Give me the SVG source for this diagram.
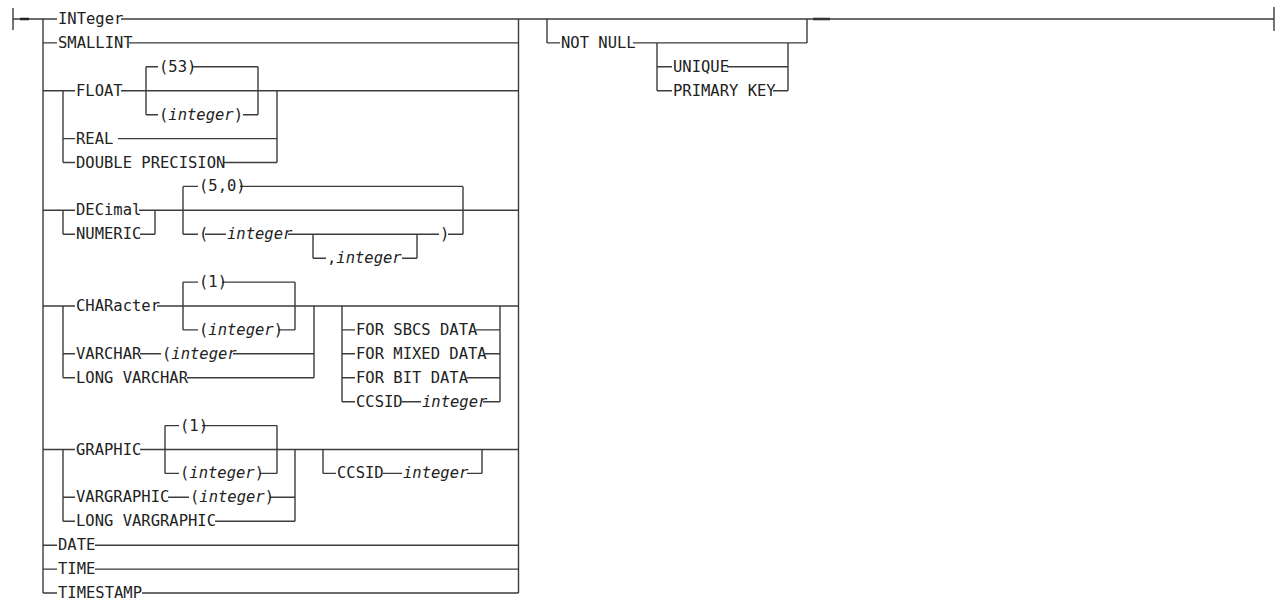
<svg xmlns="http://www.w3.org/2000/svg" width="1280" height="598" viewBox="0 0 1280 598">
<style>
  .bg{fill:#fff}
  .c{fill:none;stroke:#3c3c3c;stroke-width:1.4}
  .tk{fill:none;stroke:#222;stroke-width:2.6}
  text{font-family:"DejaVu Sans Mono","Liberation Mono",monospace;font-size:15.5px;fill:#222}
  .i{font-style:italic}
</style>
<rect class="bg" x="0" y="0" width="1280" height="598"/>
<g id="connectors">
  <path class="c" d="M13 8V30M13 19H43M43 19V593M518.5 19V593"/>
  <path class="tk" d="M20 19H29M813 19H830"/>
  <path class="c" d="M43 19H57M121 19H1274M1274 7V31"/>
  <path class="c" d="M43 42.9H57M129 42.9H518.5"/>
  <!-- FLOAT group -->
  <path class="c" d="M43 90.8H75M121 90.8H518.5M63 90.8V162.5M63 138.6H75M118 138.6H277M63 162.5H75M224 162.5H277M277 90.8V162.5"/>
  <path class="c" d="M146 66.8V114.7M146 66.8H158M192 66.8H258M258 66.8V114.7M146 114.7H158M243 114.7H258"/>
  <!-- DEC group -->
  <path class="c" d="M43 210.3H75M139 210.3H518.5M63 210.3V234.3M63 234.3H75M140 234.3H155M155 210.3V234.3"/>
  <path class="c" d="M183 186.4V234.3M183 186.4H198M240 186.4H463M463 186.4V234.3M183 234.3H198M205 234.3H226M288 234.3H439M448 234.3H463"/>
  <path class="c" d="M313 234.3V258.2M313 258.2H326M402 258.2H417M417 234.3V258.2"/>
  <!-- CHAR group -->
  <path class="c" d="M43 306H75M157 306H518.5M63 306V377.8"/>
  <path class="c" d="M183 282.1V329.9M183 282.1H198M222 282.1H295M295 282.1V329.9M183 329.9H198M278 329.9H295"/>
  <path class="c" d="M63 353.8H75M140 353.8H161M233 353.8H314M63 377.8H75M187 377.8H314M314 306V377.8"/>
  <path class="c" d="M342 306V401.7M500 306V401.7M342 329.9H355M476 329.9H500M342 353.8H355M485 353.8H500M342 377.8H355M467 377.8H500M342 401.7H355M402 401.7H421M483 401.7H500"/>
  <!-- GRAPHIC group -->
  <path class="c" d="M43 449.5H75M140 449.5H518.5M63 449.5V521.3"/>
  <path class="c" d="M165 425.6V473.4M165 425.6H179M202 425.6H277M277 425.6V473.4M165 473.4H179M260 473.4H277"/>
  <path class="c" d="M63 497.3H75M168 497.3H189M270 497.3H295M63 521.3H75M215 521.3H295M295 449.5V521.3"/>
  <path class="c" d="M323 449.5V473.4M482 449.5V473.4M323 473.4H336M383 473.4H402M467 473.4H482"/>
  <!-- DATE/TIME/TIMESTAMP -->
  <path class="c" d="M43 545.2H57M95 545.2H518.5M43 569.1H57M95 569.1H518.5M43 593H57M142 593H518.5"/>
  <!-- NOT NULL -->
  <path class="c" d="M547 19V42.9M807 19V42.9M547 42.9H560M633 42.9H807M657 42.9V90.8M788 42.9V90.8M657 66.8H672M727 66.8H788M657 90.8H672M773 90.8H788"/>
</g>
<g id="n-integer"><text x="58" y="24">INTeger</text></g>
<g id="n-smallint"><text x="58" y="47.9">SMALLINT</text></g>
<g id="n-53"><text x="159" y="71.8">(53)</text></g>
<g id="n-float"><text x="76" y="95.8">FLOAT</text></g>
<g id="n-float-int"><text x="159" y="119.7">(<tspan class="i">integer</tspan>)</text></g>
<g id="n-real"><text x="76" y="143.6">REAL</text></g>
<g id="n-double"><text x="76" y="167.5">DOUBLE PRECISION</text></g>
<g id="n-50"><text x="199" y="191.4">(5,0)</text></g>
<g id="n-decimal"><text x="76" y="215.3">DECimal</text></g>
<g id="n-numeric"><text x="76" y="239.3">NUMERIC</text></g>
<g id="n-dec-open"><text x="199" y="239.3">(</text></g>
<g id="n-dec-int"><text class="i" x="227" y="239.3">integer</text></g>
<g id="n-dec-close"><text x="440" y="239.3">)</text></g>
<g id="n-dec-scale"><text x="327" y="263.2">,<tspan class="i">integer</tspan></text></g>
<g id="n-char-1"><text x="199" y="287.1">(1)</text></g>
<g id="n-character"><text x="76" y="311">CHARacter</text></g>
<g id="n-char-int"><text x="199" y="334.9">(<tspan class="i">integer</tspan>)</text></g>
<g id="n-varchar"><text x="76" y="358.8">VARCHAR</text></g>
<g id="n-varchar-int"><text x="162" y="358.8">(<tspan class="i">integer</tspan></text></g>
<g id="n-longvarchar"><text x="76" y="382.8">LONG VARCHAR</text></g>
<g id="n-sbcs"><text x="356" y="334.9">FOR SBCS DATA</text></g>
<g id="n-mixed"><text x="356" y="358.8">FOR MIXED DATA</text></g>
<g id="n-bit"><text x="356" y="382.8">FOR BIT DATA</text></g>
<g id="n-ccsid1"><text x="356" y="406.7">CCSID</text></g>
<g id="n-ccsid1-int"><text class="i" x="422" y="406.7">integer</text></g>
<g id="n-graphic-1"><text x="180" y="430.6">(1)</text></g>
<g id="n-graphic"><text x="76" y="454.5">GRAPHIC</text></g>
<g id="n-graphic-int"><text x="180" y="478.4">(<tspan class="i">integer</tspan>)</text></g>
<g id="n-ccsid2"><text x="337" y="478.4">CCSID</text></g>
<g id="n-ccsid2-int"><text class="i" x="403" y="478.4">integer</text></g>
<g id="n-vargraphic"><text x="76" y="502.3">VARGRAPHIC</text></g>
<g id="n-vargraphic-int"><text x="190" y="502.3">(<tspan class="i">integer</tspan>)</text></g>
<g id="n-longvargraphic"><text x="76" y="526.3">LONG VARGRAPHIC</text></g>
<g id="n-date"><text x="58" y="550.2">DATE</text></g>
<g id="n-time"><text x="58" y="574.1">TIME</text></g>
<g id="n-timestamp"><text x="58" y="598">TIMESTAMP</text></g>
<g id="n-notnull"><text x="561" y="47.9">NOT NULL</text></g>
<g id="n-unique"><text x="673" y="71.8">UNIQUE</text></g>
<g id="n-primarykey"><text x="673" y="95.8">PRIMARY KEY</text></g>
</svg>
